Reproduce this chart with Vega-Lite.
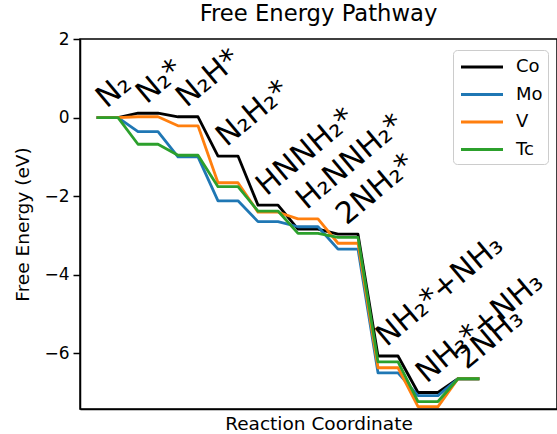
{
  "$schema": "https://vega.github.io/schema/vega-lite/v6.json",
  "width": 477,
  "height": 370,
  "autosize": {"type": "none"},
  "padding": {"left": 80, "top": 39, "right": 0, "bottom": 25},
  "background": "white",
  "title": {"text": "Free Energy Pathway", "fontSize": 22.7, "font": "DejaVu Sans", "fontWeight": "normal", "color": "black", "offset": 4},
  "config": {
    "font": "DejaVu Sans",
    "view": {"stroke": "black", "strokeWidth": 1.5},
    "axis": {"grid": false, "domainColor": "black", "domainWidth": 1.5, "tickColor": "black", "titleColor": "black", "labelColor": "black", "titleFontWeight": "normal"}
  },
  "datasets": {
    "energies": [
      {"metal": "Co", "state": 0, "start": 0, "end": 1, "energy": 0},
      {"metal": "Co", "state": 1, "start": 2, "end": 3, "energy": 0.11},
      {"metal": "Co", "state": 2, "start": 4, "end": 5, "energy": 0.02},
      {"metal": "Co", "state": 3, "start": 6, "end": 7, "energy": -0.98},
      {"metal": "Co", "state": 4, "start": 8, "end": 9, "energy": -2.23},
      {"metal": "Co", "state": 5, "start": 10, "end": 11, "energy": -2.84},
      {"metal": "Co", "state": 6, "start": 12, "end": 13, "energy": -2.97},
      {"metal": "Co", "state": 7, "start": 14, "end": 15, "energy": -6.07},
      {"metal": "Co", "state": 8, "start": 16, "end": 17, "energy": -7.0},
      {"metal": "Co", "state": 9, "start": 18, "end": 19, "energy": -6.65},
      {"metal": "Mo", "state": 0, "start": 0, "end": 1, "energy": 0},
      {"metal": "Mo", "state": 1, "start": 2, "end": 3, "energy": -0.36},
      {"metal": "Mo", "state": 2, "start": 4, "end": 5, "energy": -1.0},
      {"metal": "Mo", "state": 3, "start": 6, "end": 7, "energy": -2.12},
      {"metal": "Mo", "state": 4, "start": 8, "end": 9, "energy": -2.65},
      {"metal": "Mo", "state": 5, "start": 10, "end": 11, "energy": -2.78},
      {"metal": "Mo", "state": 6, "start": 12, "end": 13, "energy": -3.35},
      {"metal": "Mo", "state": 7, "start": 14, "end": 15, "energy": -6.5},
      {"metal": "Mo", "state": 8, "start": 16, "end": 17, "energy": -7.08},
      {"metal": "Mo", "state": 9, "start": 18, "end": 19, "energy": -6.65},
      {"metal": "V", "state": 0, "start": 0, "end": 1, "energy": 0},
      {"metal": "V", "state": 1, "start": 2, "end": 3, "energy": 0.02},
      {"metal": "V", "state": 2, "start": 4, "end": 5, "energy": -0.21},
      {"metal": "V", "state": 3, "start": 6, "end": 7, "energy": -1.66},
      {"metal": "V", "state": 4, "start": 8, "end": 9, "energy": -2.41},
      {"metal": "V", "state": 5, "start": 10, "end": 11, "energy": -2.58},
      {"metal": "V", "state": 6, "start": 12, "end": 13, "energy": -3.2},
      {"metal": "V", "state": 7, "start": 14, "end": 15, "energy": -6.37},
      {"metal": "V", "state": 8, "start": 16, "end": 17, "energy": -7.36},
      {"metal": "V", "state": 9, "start": 18, "end": 19, "energy": -6.65},
      {"metal": "Tc", "state": 0, "start": 0, "end": 1, "energy": 0},
      {"metal": "Tc", "state": 1, "start": 2, "end": 3, "energy": -0.68},
      {"metal": "Tc", "state": 2, "start": 4, "end": 5, "energy": -0.96},
      {"metal": "Tc", "state": 3, "start": 6, "end": 7, "energy": -1.76},
      {"metal": "Tc", "state": 4, "start": 8, "end": 9, "energy": -2.38},
      {"metal": "Tc", "state": 5, "start": 10, "end": 11, "energy": -2.95},
      {"metal": "Tc", "state": 6, "start": 12, "end": 13, "energy": -3.05},
      {"metal": "Tc", "state": 7, "start": 14, "end": 15, "energy": -6.22},
      {"metal": "Tc", "state": 8, "start": 16, "end": 17, "energy": -7.23},
      {"metal": "Tc", "state": 9, "start": 18, "end": 19, "energy": -6.65}
    ],
    "states": [
      {"state": 0, "label": "N₂"},
      {"state": 1, "label": "N₂*"},
      {"state": 2, "label": "N₂H*"},
      {"state": 3, "label": "N₂H₂*"},
      {"state": 4, "label": "HNNH₂*"},
      {"state": 5, "label": "H₂NNH₂*"},
      {"state": 6, "label": "2NH₂*"},
      {"state": 7, "label": "NH₂*+NH₃"},
      {"state": 8, "label": "NH₃*+NH₃"},
      {"state": 9, "label": "2NH₃"}
    ]
  },
  "layer": [
    {
      "data": {"name": "energies"},
      "transform": [{"fold": ["start", "end"], "as": ["edge", "coord"]}],
      "mark": {"type": "line", "strokeWidth": 2.8, "strokeCap": "square", "strokeJoin": "round"},
      "encoding": {
        "x": {
          "field": "coord", "type": "quantitative",
          "scale": {"domain": [-0.9, 22.95], "nice": false, "zero": false},
          "axis": {"title": "Reaction Coordinate", "labels": false, "ticks": false, "titleFontSize": 18.5, "titlePadding": 5}
        },
        "y": {
          "field": "energy", "type": "quantitative",
          "scale": {"domain": [-7.42, 2], "nice": false, "zero": false},
          "axis": {"title": "Free Energy (eV)", "values": [-6, -4, -2, 0, 2], "tickSize": 7, "tickWidth": 1.5, "labelFontSize": 17, "labelPadding": 4, "titleFontSize": 18.5, "titlePadding": 11}
        },
        "color": {
          "field": "metal", "type": "nominal",
          "scale": {"domain": ["Co", "Mo", "V", "Tc"], "range": ["#000000", "#1f77b4", "#ff7f0e", "#2ca02c"]},
          "legend": {
            "orient": "none", "legendX": 373, "legendY": 11, "title": null,
            "symbolType": "M-2,0H2", "symbolSize": 441, "symbolStrokeWidth": 2.8, "symbolOffset": 12,
            "labelFontSize": 18, "labelColor": "black", "labelOffset": 22,
            "strokeColor": "#cccccc", "fillColor": "white", "cornerRadius": 4, "padding": 5, "rowPadding": 6.5
          }
        }
      }
    },
    {
      "data": {"name": "energies"},
      "transform": [
        {"aggregate": [{"op": "max", "field": "energy", "as": "top"}, {"op": "min", "field": "start", "as": "left"}], "groupby": ["state"]},
        {"lookup": "state", "from": {"data": {"name": "states"}, "key": "state", "fields": ["label"]}}
      ],
      "mark": {"type": "text", "align": "left", "baseline": "bottom", "angle": 320, "fontSize": 30, "dx": 12, "dy": 5, "color": "black"},
      "encoding": {
        "x": {"field": "left", "type": "quantitative"},
        "y": {"field": "top", "type": "quantitative"},
        "text": {"field": "label", "type": "nominal"}
      }
    },
    {
      "mark": {"type": "text", "align": "left", "baseline": "alphabetic", "fontSize": 18, "text": "U = -1V", "color": "black"},
      "encoding": {
        "x": {"datum": -0.5, "type": "quantitative"},
        "y": {"datum": -7.14, "type": "quantitative"}
      }
    }
  ]
}
